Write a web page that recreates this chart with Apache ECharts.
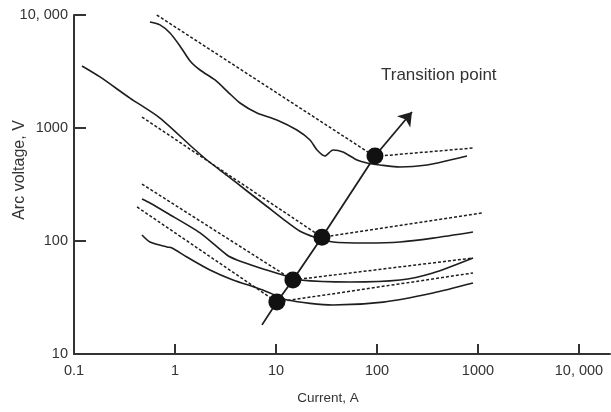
<!DOCTYPE html>
<html><head><meta charset="utf-8">
<script src="https://cdn.jsdelivr.net/npm/echarts@6/dist/echarts.min.js"></script>
<style>html,body{margin:0;padding:0;background:#fff}#c{width:611px;height:412px}</style>
</head><body><div id="c"></div>
<script>
// Tick values and labels
const xTicks = [0.1, 1, 10, 100, 1000, 10000];
const xTickLabels = ['0.1', '1', '10', '100', '1000', '10, 000'];
const yTicks = [10, 100, 1000, 10000];
const yTickLabels = ['10', '100', '1000', '10, 000'];

// Solid characteristic curves [current A, arc voltage V]
const solidA = [[0.565,8670],[0.71,8170],[0.892,6930],[1.12,5320],[1.41,3920],[1.77,3260],[2.49,2660],[3.35,2080],[4.4,1665],[6.49,1358],[10.2,1178],[16.1,960],[21.7,783],[25.5,638],[30.5,565],[36.7,638],[46,613],[63.4,521],[79.6,490],[107,471],[169,452],[313,471],[528,521],[778,565]];
const solidB = [[0.12,3540],[0.181,2830],[0.358,1840],[0.71,1225],[1.51,665],[2.07,521],[3.27,380],[5.16,277],[8.15,202],[11.7,157],[17.3,122],[24.3,108],[36.7,98],[79.6,96],[169,98],[358,106],[892,120]];
const solidC = [[0.471,235],[0.565,217],[0.834,177],[1.77,118],[3.27,75.2],[4.11,67.9],[6.95,57.7],[11.7,50.0],[17.3,45.2],[54.1,43.4],[169,45.2],[358,52.1],[892,70.7]];
const solidD = [[0.471,113],[0.565,98],[0.834,88.5],[0.933,86.7],[1.31,72.2],[2.22,55.4],[3.75,45.2],[6.49,38.4],[8.73,34.7],[12.9,30.0],[36.7,27.1],[115,28.8],[358,34.7],[892,42.5]];

// Dashed asymptote lines
const dashA = [[0.66,10000],[95,560],[892,665]];
const dashB = [[0.471,1250],[28.5,108],[1096,177]];
const dashC = [[0.471,319],[14.7,45.2],[892,70.7]];
const dashD = [[0.421,200],[10.2,28.8],[892,52.1]];

// Transition points and transition line
const transitionPoints = [[95.5,565],[28.5,108],[14.7,45.2],[10.2,28.8]];
const transitionLine = [[7.27,18.1],[10.2,28.8],[14.7,45.2],[28.5,108],[95.5,565]];
const transitionArrow = [[95.5,565],[222,1386]];

const FONT = "'Liberation Sans', Arial, sans-serif";
const INK = '#1e1e1e';
const TXT = '#333';

function pickLabel(v, ticks, labels) {
  for (let i = 0; i < ticks.length; i++) {
    if (Math.abs(Math.log10(v) - Math.log10(ticks[i])) < 1e-6) return labels[i];
  }
  return '';
}

const solid = (d) => ({type:'line', data:d, smooth:0.25, symbol:'none', silent:true,
  lineStyle:{color:INK, width:1.6}});
const dashed = (d) => ({type:'line', data:d, symbol:'none', silent:true,
  lineStyle:{color:INK, width:1.5, type:[3,2]}});

const chart = echarts.init(document.getElementById('c'));
chart.setOption({
  animation:false,
  backgroundColor:'#fff',
  grid:{left:74, right:1, top:15, bottom:58, containLabel:false},
  xAxis:{type:'log', logBase:10, min:0.1, max:20280,
    axisLine:{lineStyle:{color:'#333', width:2}},
    axisTick:{inside:true, length:10, customValues:xTicks, lineStyle:{color:'#333', width:2}},
    axisLabel:{customValues:xTicks, margin:9, fontSize:14.5, fontFamily:FONT, color:TXT,
      formatter:(v)=>pickLabel(v, xTicks, xTickLabels)},
    splitLine:{show:false}, minorTick:{show:false}},
  yAxis:{type:'log', logBase:10, min:10, max:10000,
    axisLine:{lineStyle:{color:'#333', width:2}},
    axisTick:{inside:true, length:12, customValues:yTicks, lineStyle:{color:'#333', width:2}},
    axisLabel:{customValues:yTicks, margin:6, fontSize:14.5, fontFamily:FONT, color:TXT,
      formatter:(v)=>pickLabel(v, yTicks, yTickLabels)},
    splitLine:{show:false}},
  graphic:[
    {type:'text', x:381, y:75, style:{text:'Transition point', font:"17px "+FONT, fill:TXT, textAlign:'left', textVerticalAlign:'middle'}},
    {type:'text', x:328, y:398, style:{text:'Current, A', font:"13.5px "+FONT, fill:TXT, textAlign:'center', textVerticalAlign:'middle'}},
    {type:'text', x:20, y:170, rotation:Math.PI/2, style:{text:'Arc voltage, V', font:"16px "+FONT, fill:TXT, textAlign:'center', textVerticalAlign:'middle'}}
  ],
  series:[
    solid(solidA), solid(solidB), solid(solidC), solid(solidD),
    dashed(dashA), dashed(dashB), dashed(dashC), dashed(dashD),
    {type:'line', data:transitionLine, symbol:'none', silent:true, lineStyle:{color:INK, width:1.8}},
    {type:'lines', coordinateSystem:'cartesian2d', silent:true, z:3,
      data:[{coords:transitionArrow}], symbol:['none','arrow'], symbolSize:[1,13],
      lineStyle:{color:INK, width:1.8, opacity:1}},
    {type:'scatter', data:transitionPoints, symbol:'circle', symbolSize:17, silent:true, z:5,
      itemStyle:{color:'#111', opacity:1}}
  ]
});
</script></body></html>
